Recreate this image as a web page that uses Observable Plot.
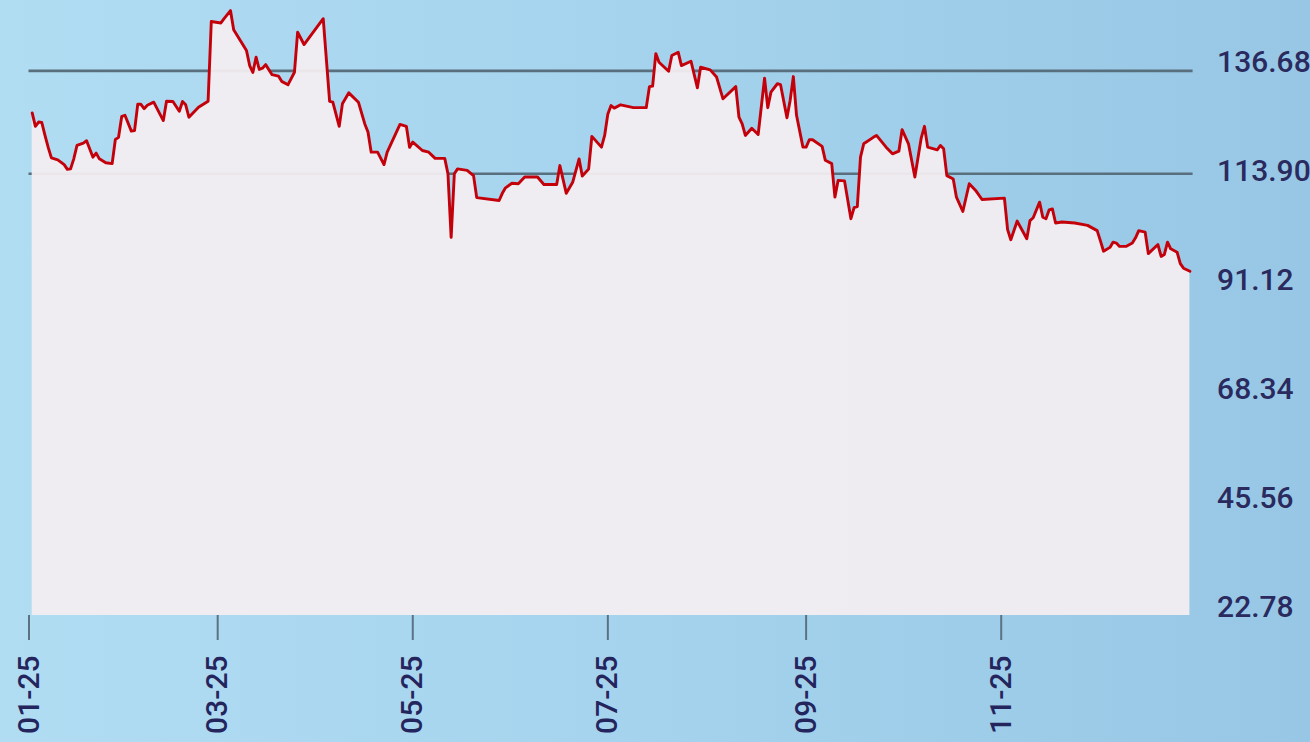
<!DOCTYPE html>
<html>
<head>
<meta charset="utf-8">
<script src="https://cdn.jsdelivr.net/npm/d3@7"></script>
<script src="https://cdn.jsdelivr.net/npm/@observablehq/plot@0.6"></script>
<style>
  html, body { margin: 0; padding: 0; }
  body {
    width: 1310px; height: 742px; overflow: hidden;
    background: linear-gradient(90deg, #b1ddf3 0%, #a6d4ee 45%, #97c7e5 100%);
  }
  #chart svg { display: block; }
</style>
</head>
<body>
<div id="chart"></div>
<script>
// ---- data ----
const dates = [
  "2025-01-02","2025-01-03","2025-01-04","2025-01-05","2025-01-06","2025-01-07","2025-01-08","2025-01-10","2025-01-12","2025-01-13",
  "2025-01-14","2025-01-15","2025-01-16","2025-01-18","2025-01-19","2025-01-21","2025-01-22","2025-01-23","2025-01-25","2025-01-27",
  "2025-01-28","2025-01-29","2025-01-30","2025-01-31","2025-02-02","2025-02-03","2025-02-04","2025-02-05","2025-02-06","2025-02-07",
  "2025-02-09","2025-02-12","2025-02-13","2025-02-15","2025-02-17","2025-02-18","2025-02-19","2025-02-20","2025-02-23","2025-02-26",
  "2025-02-27","2025-03-02","2025-03-03","2025-03-05","2025-03-06","2025-03-10","2025-03-11","2025-03-12","2025-03-13","2025-03-14",
  "2025-03-15","2025-03-16","2025-03-18","2025-03-20","2025-03-21","2025-03-23","2025-03-25","2025-03-26","2025-03-28","2025-04-03",
  "2025-04-05","2025-04-06","2025-04-08","2025-04-09","2025-04-11","2025-04-14","2025-04-16","2025-04-17","2025-04-18","2025-04-20",
  "2025-04-22","2025-04-23","2025-04-27","2025-04-29","2025-04-30","2025-05-01","2025-05-04","2025-05-06","2025-05-08","2025-05-11",
  "2025-05-12","2025-05-13","2025-05-14","2025-05-15","2025-05-18","2025-05-20","2025-05-21","2025-05-28","2025-05-29","2025-05-30",
  "2025-06-01","2025-06-03","2025-06-05","2025-06-09","2025-06-11","2025-06-15","2025-06-16","2025-06-18","2025-06-20","2025-06-22",
  "2025-06-23","2025-06-25","2025-06-26","2025-06-29","2025-06-30","2025-07-01","2025-07-02","2025-07-03","2025-07-05","2025-07-09",
  "2025-07-13","2025-07-14","2025-07-15","2025-07-16","2025-07-17","2025-07-20","2025-07-21","2025-07-23","2025-07-24","2025-07-27",
  "2025-07-29","2025-07-30","2025-08-02","2025-08-04","2025-08-06","2025-08-10","2025-08-11","2025-08-12","2025-08-13","2025-08-15",
  "2025-08-17","2025-08-19","2025-08-20","2025-08-21","2025-08-23","2025-08-24","2025-08-26","2025-08-27","2025-08-28","2025-08-29",
  "2025-08-31","2025-09-01","2025-09-02","2025-09-03","2025-09-06","2025-09-07","2025-09-09","2025-09-10","2025-09-11","2025-09-13",
  "2025-09-15","2025-09-16","2025-09-17","2025-09-18","2025-09-19","2025-09-22","2025-09-23","2025-09-26","2025-09-28","2025-09-30",
  "2025-10-01","2025-10-03","2025-10-05","2025-10-06","2025-10-07","2025-10-08","2025-10-09","2025-10-12","2025-10-13","2025-10-14",
  "2025-10-15","2025-10-17","2025-10-18","2025-10-20","2025-10-22","2025-10-24","2025-10-26","2025-11-02","2025-11-03",
  "2025-11-04","2025-11-06","2025-11-09","2025-11-10","2025-11-11","2025-11-13","2025-11-14","2025-11-15","2025-11-16","2025-11-17",
  "2025-11-18","2025-11-20","2025-11-24","2025-11-28","2025-12-01","2025-12-02","2025-12-03","2025-12-05","2025-12-06","2025-12-07",
  "2025-12-08","2025-12-10","2025-12-12","2025-12-13","2025-12-14","2025-12-16","2025-12-17","2025-12-20","2025-12-21","2025-12-22",
  "2025-12-23","2025-12-24","2025-12-26","2025-12-27","2025-12-28","2025-12-30"
];
const values = [
  126.1, 123.3, 124.2, 124.1, 121.4, 118.9, 116.7, 116.3, 115.3, 114.3,
  114.4, 116.5, 119.3, 119.8, 120.3, 116.85, 117.7, 116.5, 115.7, 115.5,
  120.55, 121.0, 125.4, 125.6, 122.3, 122.4, 127.9, 127.9, 127.0, 127.7,
  128.35, 124.5, 128.55, 128.5, 126.45, 128.5, 127.8, 125.2, 127.3, 128.55,
  145.2, 144.9, 145.8, 147.5, 143.5, 139.15, 136.0, 134.55, 137.75, 135.2,
  135.45, 136.2, 134.1, 133.8, 132.7, 132.0, 134.6, 142.97, 140.4, 145.8,
  128.5, 128.35, 123.3, 128.0, 130.3, 128.35, 123.8, 122.1, 117.9, 117.9,
  115.3, 117.9, 123.7, 123.3, 118.9, 120.0, 118.25, 117.9, 116.6, 116.6,
  113.4, 100.1, 113.4, 114.4, 114.1, 113.0, 108.4, 107.8, 109.3, 110.45,
  111.4, 111.3, 112.7, 112.7, 111.15, 111.15, 115.1, 109.3, 111.6, 116.5,
  112.9, 114.4, 121.2, 118.95, 121.4, 125.9, 127.65, 127.1, 127.8, 127.2,
  127.2, 131.6, 131.7, 138.5, 136.7, 134.8, 138.1, 138.8, 136.0, 136.9,
  131.35, 135.65, 135.1, 133.6, 129.05, 131.6, 125.2, 123.8, 121.4, 122.9,
  121.6, 133.35, 127.2, 130.45, 132.2, 132.0, 125.1, 128.7, 133.7, 125.6,
  118.95, 118.95, 120.5, 120.5, 119.1, 116.2, 115.5, 108.5, 112.0, 111.9,
  104.0, 106.3, 106.5, 116.85, 119.65, 121.0, 121.4, 118.95, 117.55, 118.1,
  122.6, 119.65, 112.7, 116.85, 120.9, 123.3, 118.95, 118.4, 119.3, 118.6,
  113.0, 112.3, 108.5, 105.5, 111.3, 109.9, 108.0, 108.3, 101.7,
  99.6, 103.5, 99.8, 103.6, 104.2, 107.45, 104.3, 104.0, 105.85, 106.05,
  103.1, 103.3, 103.1, 102.6, 101.5, 99.4, 97.2, 98.0, 99.1, 98.9,
  98.2, 98.2, 98.9, 100.0, 101.5, 101.2, 96.7, 98.6, 96.1, 96.5,
  99.1, 97.7, 97.0, 94.6, 93.65, 93.0
];
const yTicks = [22.78, 45.56, 68.34, 91.12, 113.90, 136.68];
const gridValues = [134.9, 113.38];
const xTicks = ["2025-01-01","2025-03-01","2025-05-01","2025-07-01","2025-09-01","2025-11-01"];
const xDomain = ["2025-01-01","2025-12-31"];
const yDomain = [21.06, 149.6];

// ---- build table ----
const data = dates.map((d, i) => ({date: new Date(d), value: values[i]}));

const chart = Plot.plot({
  width: 1310,
  height: 742,
  marginLeft: 28.5,
  marginRight: 117.4,
  marginTop: 0,
  marginBottom: 127,
  style: {
    fontFamily: "Roboto, 'DejaVu Sans', sans-serif",
    fontSize: "30px",
    fontWeight: 500,
    background: "transparent",
    overflow: "visible"
  },
  x: {type: "utc", domain: xDomain.map(d => new Date(d))},
  y: {domain: yDomain},
  marks: [
    Plot.ruleY(gridValues, {stroke: "#5a6f7d", strokeWidth: 2.6}),
    Plot.areaY(data, {x: "date", y1: yDomain[0], y2: "value", fill: "#f3eef1", fillOpacity: 0.94}),
    Plot.lineY(data, {x: "date", y: "value", stroke: "#c4000a", strokeWidth: 2.9, strokeLinejoin: "round"}),
    Plot.axisX({
      ticks: xTicks.map(d => new Date(d)),
      tickFormat: d3.utcFormat("%m-%y"),
      tickRotate: -90,
      tickSize: 25,
      tickPadding: 15,
      stroke: "#5b7282",
      strokeWidth: 2,
      fill: "#25255e",
      label: null
    }),
    Plot.axisY({
      anchor: "right",
      ticks: yTicks,
      tickFormat: d => d.toFixed(2),
      tickSize: 0,
      tickPadding: 24,
      fill: "#2a2a5e",
      label: null
    })
  ]
});
document.getElementById("chart").appendChild(chart);
</script>
</body>
</html>
